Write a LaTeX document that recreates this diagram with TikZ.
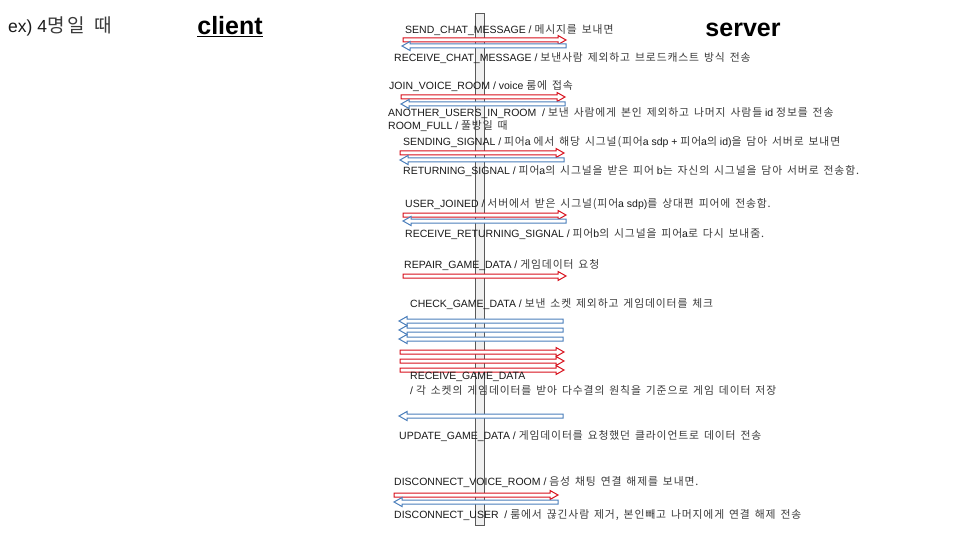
\documentclass[tikz,border=0pt]{standalone}
\usepackage{fontspec}
\setmainfont{Liberation Sans}
\newfontfamily\krfont{Noto Sans CJK KR}[Scale=1.03,LetterSpace=8,WordSpace=1.5]
\usetikzlibrary{calc}
\definecolor{arrred}{HTML}{D8101C}
\definecolor{arrblue}{HTML}{4A7EBB}
\definecolor{txtc}{HTML}{1A1A1A}
\definecolor{krc}{HTML}{3A3A3A}
\newcommand\kr[1]{{\krfont\color{krc}#1}}
\tikzset{
  lbl/.style={anchor=west, inner sep=0pt, font=\fontsize{10.5}{12}\selectfont, text=txtc},
  rblock/.style={draw=arrred, fill=white, line width=1pt, line join=miter,
    to path={($(\tikztostart)+(0,-2)$) -- ($(\tikztotarget)+(-8,-2)$) -- ($(\tikztotarget)+(-8,-4.5)$) -- (\tikztotarget) -- ($(\tikztotarget)+(-8,4.5)$) -- ($(\tikztotarget)+(-8,2)$) -- ($(\tikztostart)+(0,2)$) -- cycle}},
  lblock/.style={draw=arrblue, fill=white, line width=1pt, line join=miter,
    to path={($(\tikztostart)+(0,-2)$) -- ($(\tikztotarget)+(8,-2)$) -- ($(\tikztotarget)+(8,-4.5)$) -- (\tikztotarget) -- ($(\tikztotarget)+(8,4.5)$) -- ($(\tikztotarget)+(8,2)$) -- ($(\tikztostart)+(0,2)$) -- cycle}},
  lifeline/.style={draw=gray!70!black, fill=gray!12, line width=0.8pt, minimum width=9pt, minimum height=512pt, inner sep=0pt}
}
\begin{document}
\begin{tikzpicture}[x=1pt,y=-1pt]
\useasboundingbox[fill=white] (0,0) rectangle (960,540);
% titles
\node[anchor=west, inner sep=0pt, font=\fontsize{17.5}{20}\selectfont, text=txtc] (ex) at (8,26) {ex) 4\kr{\fontsize{18.5}{20}\selectfont 명\,일 때}};
\node[inner sep=0pt, font=\fontsize{25}{28}\bfseries\selectfont] (client) at (230,27) {\underline{client}};
\node[inner sep=0pt, font=\fontsize{25}{28}\bfseries\selectfont] (server) at (743,30) {server};
% lifeline
\node[lifeline] (life) at (479.5,269) {};
% coordinates of arrow ends
\coordinate (r1a) at (403,40);  \coordinate (r1b) at (566,40);
\coordinate (b1a) at (566,46);  \coordinate (b1b) at (402,46);
\coordinate (r2a) at (401,97);  \coordinate (r2b) at (565,97);
\coordinate (b2a) at (565,104); \coordinate (b2b) at (401,104);
\coordinate (r3a) at (400,153); \coordinate (r3b) at (564,153);
\coordinate (b3a) at (564,160); \coordinate (b3b) at (400,160);
\coordinate (r4a) at (403,215); \coordinate (r4b) at (566,215);
\coordinate (b4a) at (566,221); \coordinate (b4b) at (403,221);
\coordinate (r5a) at (403,276); \coordinate (r5b) at (566,276);
\coordinate (b6a) at (563,321); \coordinate (b6b) at (399,321);
\coordinate (b7a) at (563,330); \coordinate (b7b) at (399,330);
\coordinate (b8a) at (563,339); \coordinate (b8b) at (399,339);
\coordinate (r6a) at (400,352); \coordinate (r6b) at (564,352);
\coordinate (r7a) at (400,361); \coordinate (r7b) at (564,361);
\coordinate (r8a) at (400,370); \coordinate (r8b) at (564,370);
\coordinate (b9a) at (563,416); \coordinate (b9b) at (399,416);
\coordinate (r9a) at (394,495); \coordinate (r9b) at (558,495);
\coordinate (b10a) at (558,502); \coordinate (b10b) at (394,502);
% arrows
\draw[rblock] (r1a) to (r1b);
\draw[lblock] (b1a) to (b1b);
\draw[rblock] (r2a) to (r2b);
\draw[lblock] (b2a) to (b2b);
\draw[rblock] (r3a) to (r3b);
\draw[lblock] (b3a) to (b3b);
\draw[rblock] (r4a) to (r4b);
\draw[lblock] (b4a) to (b4b);
\draw[rblock] (r5a) to (r5b);
\draw[lblock] (b6a) to (b6b);
\draw[lblock] (b7a) to (b7b);
\draw[lblock] (b8a) to (b8b);
\draw[rblock] (r6a) to (r6b);
\draw[rblock] (r7a) to (r7b);
\draw[rblock] (r8a) to (r8b);
\draw[lblock] (b9a) to (b9b);
\draw[rblock] (r9a) to (r9b);
\draw[lblock] (b10a) to (b10b);
% labels
\node[lbl] (t1) at (405,30) {SEND\_CHAT\_MESSAGE / \kr{메시지를 보내면}};
\node[lbl] (t2) at (394,58) {RECEIVE\_CHAT\_MESSAGE / \kr{보낸사람 제외하고 브로드캐스트 방식 전송}};
\node[lbl] (t3) at (389,86) {JOIN\_VOICE\_ROOM / voice \kr{룸에 접속}};
\node[lbl] (t4) at (388,113) {ANOTHER\_USERS\_IN\_ROOM\ \ / \kr{보낸 사람에게 본인 제외하고 나머지 사람들} id \kr{정보를 전송}};
\node[lbl] (t5) at (388,126) {ROOM\_FULL / \kr{풀방일 때}};
\node[lbl] (t6) at (403,142) {SENDING\_SIGNAL / \kr{피어}a \kr{에서 해당 시그널(피어}a sdp + \kr{피어}a\kr{의} id)\kr{을 담아 서버로 보내면}};
\node[lbl] (t7) at (403,171) {RETURNING\_SIGNAL / \kr{피어}a\kr{의 시그널을 받은 피어} b\kr{는 자신의 시그널을 담아 서버로 전송함.}};
\node[lbl] (t8) at (405,204) {USER\_JOINED / \kr{서버에서 받은 시그널(피어}a sdp)\kr{를 상대편 피어에 전송함.}};
\node[lbl] (t9) at (405,234) {RECEIVE\_RETURNING\_SIGNAL / \kr{피어}b\kr{의 시그널을 피어}a\kr{로 다시 보내줌.}};
\node[lbl] (t10) at (404,265) {REPAIR\_GAME\_DATA / \kr{게임데이터 요청}};
\node[lbl] (t11) at (410,304) {CHECK\_GAME\_DATA / \kr{보낸 소켓 제외하고 게임데이터를 체크}};
\node[lbl] (t12) at (410,377) {RECEIVE\_GAME\_DATA};
\node[lbl] (t13) at (410,390) {/ \kr{각 소켓의 게임데이터를 받아 다수결의 원칙을 기준으로 게임 데이터 저장}};
\node[lbl] (t14) at (399,436) {UPDATE\_GAME\_DATA / \kr{게임데이터를 요청했던 클라이언트로 데이터 전송}};
\node[lbl] (t15) at (394,482) {DISCONNECT\_VOICE\_ROOM / \kr{음성 채팅 연결 해제를 보내면.}};
\node[lbl] (t16) at (394,515) {DISCONNECT\_USER\ \ / \kr{룸에서 끊긴사람 제거, 본인빼고 나머지에게 연결 해제 전송}};
\end{tikzpicture}
\end{document}
